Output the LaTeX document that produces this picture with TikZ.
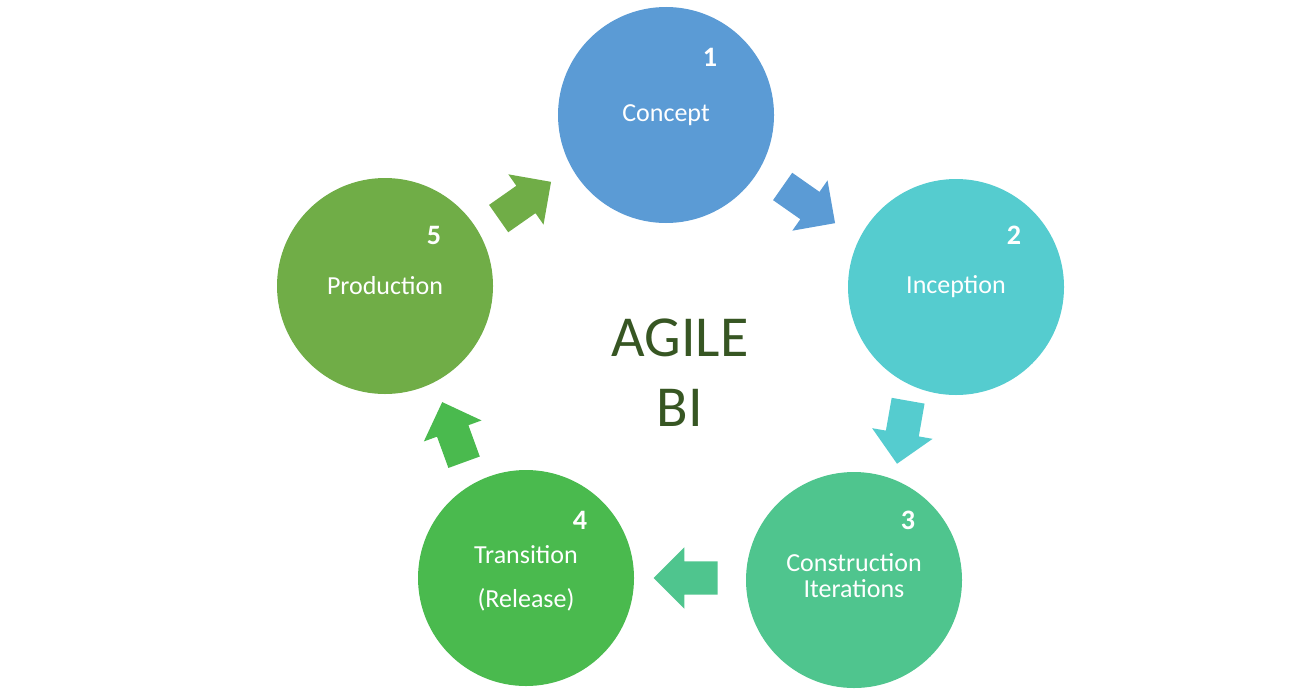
\documentclass[tikz,border=0pt]{standalone}
\usepackage{fontspec}
\setmainfont{Carlito}
\usetikzlibrary{shapes.arrows}
\definecolor{cconcept}{HTML}{5B9BD5}
\definecolor{cinception}{HTML}{55CCCF}
\definecolor{cconstr}{HTML}{4FC58E}
\definecolor{ctrans}{HTML}{4ABA4E}
\definecolor{cprod}{HTML}{70AD47}
\definecolor{cagile}{HTML}{375623}
\tikzset{
  phase/.style={circle, minimum size=2.16cm, inner sep=0pt, text=white,
    font=\fontsize{7.4}{8.6}\selectfont, align=center},
  stepnum/.style={text=white, font=\fontsize{8}{9}\selectfont\bfseries},
  flowarrow/.style={single arrow, minimum height=0.64cm, inner sep=0.16cm,
    single arrow head extend=0.14cm}
}
\begin{document}
\begin{tikzpicture}
	\useasboundingbox (0,0) rectangle (13.06,6.92);

	%phases of the cycle
	\foreach \phasename/\x/\y/\col/\txt in {concept/6.66/5.77/cconcept/Concept,
		inception/9.56/4.05/cinception/Inception,
		constr/8.54/1.12/cconstr/{\\[-6pt]Construction\\[-1pt]Iterations},
		trans/5.26/1.14/ctrans/{Transition\\[4pt](Release)},
		prod/3.85/4.06/cprod/Production}
   {
		\node[phase, fill=\col] (\phasename) at (\x,\y) {\txt};
   }

	%numbers
	\node[stepnum] (n1) at (7.10,6.35) {1};
	\node[stepnum] (n2) at (10.14,4.57) {2};
	\node[stepnum] (n3) at (9.08,1.72) {3};
	\node[stepnum] (n4) at (5.80,1.72) {4};
	\node[stepnum] (n5) at (4.34,4.57) {5};

	%arrows between phases
	\node[flowarrow, fill=cconcept, rotate=-35] (a12) at (8.02,4.92) {};
	\node[flowarrow, fill=cinception, rotate=-100] (a23) at (9.04,2.68) {};
	\node[flowarrow, fill=cconstr, rotate=180] (a34) at (6.94,1.14) {};
	\node[flowarrow, fill=ctrans, rotate=110] (a45) at (4.56,2.52) {};
	\node[flowarrow, fill=cprod, rotate=35] (a51) at (5.18,4.87) {};

	\node[text=cagile, font=\fontsize{16.5}{20}\selectfont, align=center] (agile) at (6.80,3.19) {AGILE\\BI};
\end{tikzpicture}
\end{document}
